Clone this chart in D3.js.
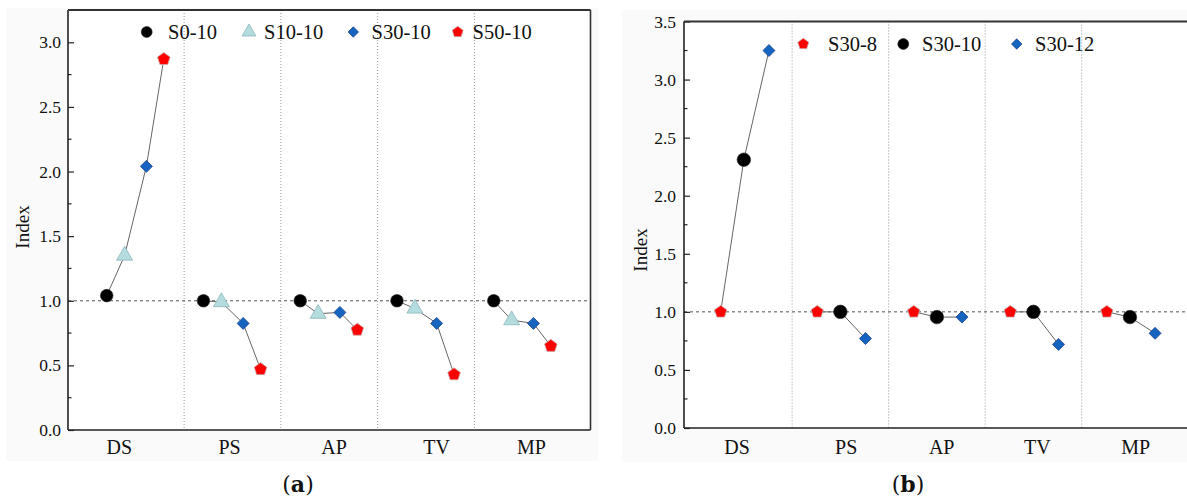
<!DOCTYPE html>
<html><head><meta charset="utf-8">
<script src="https://cdn.jsdelivr.net/npm/d3@7"></script>
<style>
body{margin:0;background:#fff}
svg{display:block}
text{font-family:"Liberation Serif","Times New Roman",serif;fill:#111}
</style></head>
<body><svg width="1187" height="502"></svg>
<script>
// ---------- data ----------
const categories = ["DS","PS","AP","TV","MP"];

// panel (a)
const seriesA = ["S0-10","S10-10","S30-10","S50-10"];
const valuesA_S0_10  = [1.04, 1.00, 1.00, 1.00, 1.00];
const valuesA_S10_10 = [1.35, 0.99, 0.90, 0.94, 0.85];
const valuesA_S30_10 = [2.04, 0.825, 0.91, 0.825, 0.825];
const valuesA_S50_10 = [2.87, 0.47, 0.775, 0.43, 0.65];
const shapesA = ["circle","triangle","diamond","pentagon"];
const offsetsA = [-0.30, -0.115, 0.11, 0.29];
const labelPosA = [0.83, 1.97, 3.05, 4.11, 5.09];
const yTicksA = [0, 0.5, 1.0, 1.5, 2.0, 2.5, 3.0];

// panel (b)
const seriesB = ["S30-8","S30-10","S30-12"];
const valuesB_S30_8  = [1.00, 1.00, 1.00, 1.00, 1.00];
const valuesB_S30_10 = [2.31, 1.00, 0.955, 1.00, 0.955];
const valuesB_S30_12 = [3.25, 0.77, 0.955, 0.72, 0.815];
const shapesB = ["pentagon","circle","diamond"];
const offsetsB = [-0.24, 0.0, 0.26];
const labelPosB = [0.93, 2.06, 3.05, 4.04, 5.06];
const yTicksB = [0, 0.5, 1.0, 1.5, 2.0, 2.5, 3.0, 3.5];

// ---------- styles ----------
const pentagonType = {
  draw(ctx, size) {
    const r = Math.sqrt(size / (2.5 * Math.sin(2 * Math.PI / 5)));
    for (let i = 0; i < 5; i++) {
      const a = -Math.PI / 2 + i * 2 * Math.PI / 5;
      const x = r * Math.cos(a), y = r * Math.sin(a);
      if (i === 0) ctx.moveTo(x, y); else ctx.lineTo(x, y);
    }
    ctx.closePath();
  }
};
const diamondType = {
  draw(ctx, size) {
    const h = Math.sqrt(size / 2);
    ctx.moveTo(0, -h); ctx.lineTo(h, 0); ctx.lineTo(0, h); ctx.lineTo(-h, 0); ctx.closePath();
  }
};
const markerStyle = {
  circle:   {type: d3.symbolCircle, size: 125, fill: "#000", stroke: "#222", sw: 0.6},
  triangle: {type: d3.symbolTriangle, size: 110, fill: "#b4dcdf", stroke: "#8db6ba", sw: 0.8},
  diamond:  {type: diamondType, size: 72, fill: "#1464c0", stroke: "#1d3f8c", sw: 0.8},
  pentagon: {type: pentagonType, size: 105, fill: "#ff0000", stroke: "#c9a9a9", sw: 0.8}
};

const svg = d3.select("svg");

// light panel backgrounds
svg.append("rect").attr("x", 6).attr("y", 8).attr("width", 592).attr("height", 453).attr("fill", "#fafafa");
svg.append("rect").attr("x", 622).attr("y", 10).attr("width", 565).attr("height", 452).attr("fill", "#fafafa");

function drawPanel(cfg) {
  const g = svg.append("g");
  const x = d3.scaleLinear().domain(cfg.xDomain).range(cfg.xRange);
  const y = d3.scaleLinear().domain(cfg.yDomain).range(cfg.yRange);
  const [x0, x1] = cfg.xRange, [yb, yt] = cfg.yRange;

  g.append("rect").attr("x", x0).attr("y", yt).attr("width", Math.min(x1, 1187) - x0).attr("height", yb - yt).attr("fill", "#fff");

  // separators
  g.selectAll(".sep").data(d3.range(1.5, categories.length, 1)).join("line")
    .attr("x1", d => x(d)).attr("x2", d => x(d)).attr("y1", yt).attr("y2", yb)
    .attr("stroke", "#9a9a9a").attr("stroke-width", 1).attr("stroke-dasharray", "1,2");

  // reference line at 1.0
  g.append("line").attr("x1", x0).attr("x2", x1).attr("y1", y(1)).attr("y2", y(1))
    .attr("stroke", "#555").attr("stroke-width", 1).attr("stroke-dasharray", "3,3");

  // y axis (inward ticks)
  const yAxis = d3.axisRight(y).tickValues(cfg.yTicks).tickFormat(d3.format(".1f")).tickSize(6).tickSizeOuter(0);
  const ya = g.append("g").attr("transform", `translate(${x0},0)`).call(yAxis);
  ya.select(".domain").remove();
  ya.selectAll("line").attr("stroke", "#222").attr("stroke-width", 1.2);
  ya.selectAll("text").attr("x", -cfg.tickGap).attr("text-anchor", "end")
    .style("font-size", "17.5px").style("font-family", "'Liberation Serif',serif").attr("fill", "#222");
  const minor = d3.range(0.25, cfg.yDomain[1], 0.5);
  g.selectAll(".minor").data(minor).join("line")
    .attr("x1", x0).attr("x2", x0 + 3.5).attr("y1", d => y(d)).attr("y2", d => y(d))
    .attr("stroke", "#222").attr("stroke-width", 1.2);

  // frame
  g.append("line").attr("x1", x0).attr("x2", x0).attr("y1", yt).attr("y2", yb).attr("stroke", "#222").attr("stroke-width", 1.6);
  g.append("line").attr("x1", x0).attr("x2", x1).attr("y1", yb).attr("y2", yb).attr("stroke", "#222").attr("stroke-width", 1.6);
  g.append("line").attr("x1", x0).attr("x2", x1).attr("y1", yt).attr("y2", yt).attr("stroke", "#333").attr("stroke-width", 2);
  g.append("line").attr("x1", x1).attr("x2", x1).attr("y1", yt).attr("y2", yb).attr("stroke", "#333").attr("stroke-width", 1.6);

  // category labels
  g.selectAll(".cat").data(categories).join("text")
    .attr("x", (d, i) => x(cfg.labelPos[i])).attr("y", cfg.labelY)
    .attr("text-anchor", "middle").attr("dominant-baseline", "central")
    .style("font-size", "20px").text(d => d);

  // connecting lines per category
  const line = d3.line().x(d => x(d.x)).y(d => y(d.v));
  categories.forEach((c, ci) => {
    const pts = cfg.series.map((s, si) => ({x: ci + 1 + cfg.offsets[si], v: cfg.values[si][ci]}));
    g.append("path").attr("d", line(pts)).attr("fill", "none").attr("stroke", "#666").attr("stroke-width", 1);
  });

  // markers
  cfg.series.forEach((s, si) => {
    const st = markerStyle[cfg.shapes[si]];
    g.selectAll(null).data(cfg.values[si]).join("path")
      .attr("transform", (d, ci) => `translate(${x(ci + 1 + cfg.offsets[si])},${y(d)})`)
      .attr("d", d3.symbol().type(st.type).size(st.size * cfg.markerScale[si]))
      .attr("fill", st.fill).attr("stroke", st.stroke).attr("stroke-width", st.sw);
  });

  // legend
  cfg.series.forEach((s, si) => {
    const st = markerStyle[cfg.shapes[si]];
    g.append("path").attr("transform", `translate(${cfg.legendMarkX[si]},${cfg.legendY})`)
      .attr("d", d3.symbol().type(st.type).size(st.size * 0.75))
      .attr("fill", st.fill).attr("stroke", st.stroke).attr("stroke-width", st.sw);
    g.append("text").attr("x", cfg.legendTextX[si]).attr("y", cfg.legendY)
      .attr("dominant-baseline", "central").style("font-size", "20.5px").text(s);
  });

  // y title
  g.append("text").attr("transform", `translate(${cfg.yTitleX},${cfg.yTitleY}) rotate(-90)`)
    .attr("text-anchor", "middle").attr("dominant-baseline", "central")
    .style("font-size", "19px").text("Index");

  // caption
  const cap = g.append("text").attr("x", cfg.capX).attr("y", 484).attr("text-anchor", "middle")
    .attr("dominant-baseline", "central").style("font-size", "22px")
    .style("font-family", "'DejaVu Serif','Liberation Serif',serif");
  cap.append("tspan").text("(");
  cap.append("tspan").attr("font-weight", "bold").text(cfg.capLetter);
  cap.append("tspan").text(")");
}

drawPanel({
  series: seriesA,
  values: [valuesA_S0_10, valuesA_S10_10, valuesA_S30_10, valuesA_S50_10],
  shapes: shapesA, offsets: offsetsA, labelPos: labelPosA, yTicks: yTicksA,
  markerScale: [1, 1, 1, 1],
  xDomain: [0.3, 5.7], xRange: [68, 590.5],
  yDomain: [0, 3.25], yRange: [430, 10],
  tickGap: 7, labelY: 447,
  legendY: 32, legendMarkX: [146.7, 249, 353.3, 457.7], legendTextX: [168, 264, 371.5, 472.5],
  yTitleX: 22, yTitleY: 227, capX: 298, capLetter: "a"
});

drawPanel({
  series: seriesB,
  values: [valuesB_S30_8, valuesB_S30_10, valuesB_S30_12],
  shapes: shapesB, offsets: offsetsB, labelPos: labelPosB, yTicks: yTicksB,
  markerScale: [0.95, 1.15, 1],
  xDomain: [0.38, 5.62], xRange: [684, 1189.8],
  yDomain: [0, 3.5], yRange: [428, 21.5],
  tickGap: 8, labelY: 447,
  legendY: 44, legendMarkX: [803.3, 903.3, 1016.7], legendTextX: [828, 922, 1035],
  yTitleX: 640, yTitleY: 250, capX: 908, capLetter: "b"
});
</script>
</body></html>
